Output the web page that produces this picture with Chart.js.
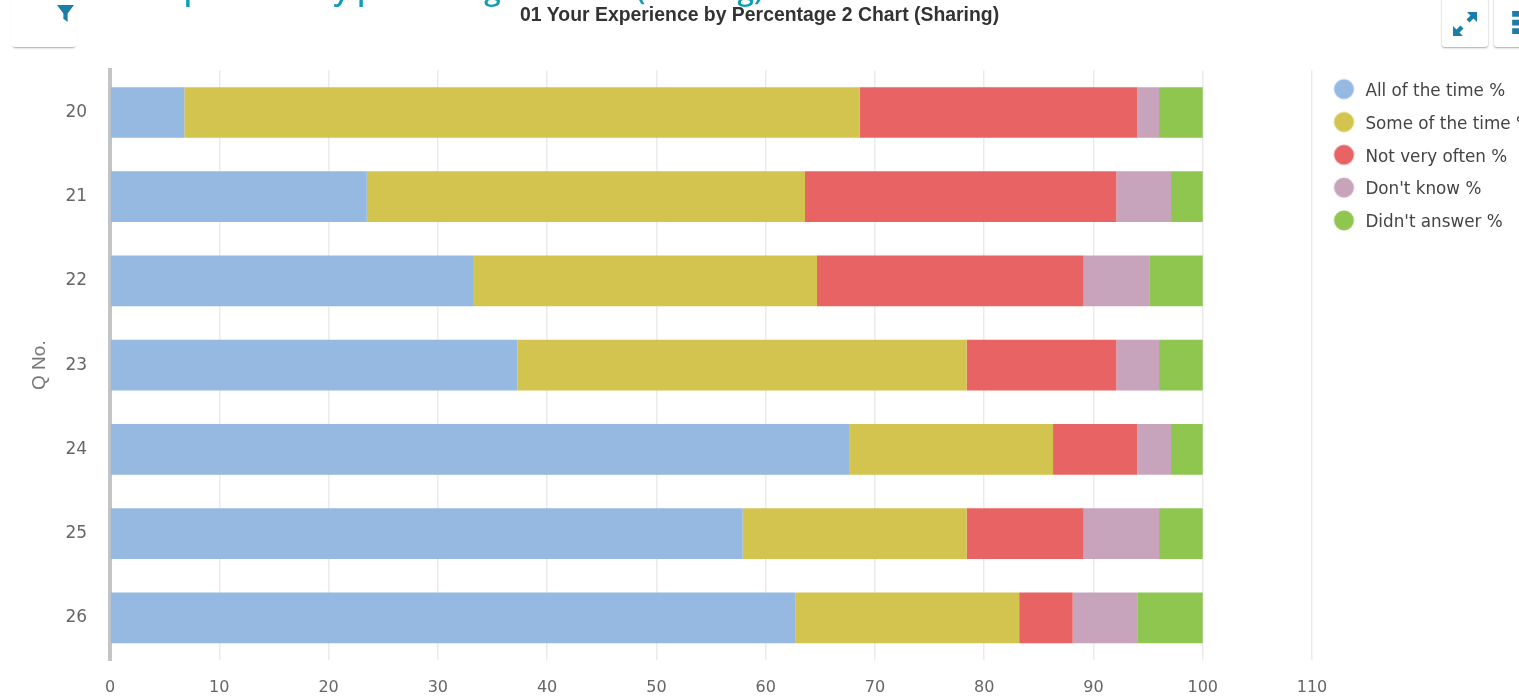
<!DOCTYPE html>
<html>
<head>
<meta charset="utf-8">
<title>01 Your Experience by Percentage 2 Chart (Sharing)</title>
<script src="https://cdn.jsdelivr.net/npm/chart.js@4"></script>
<style>
html, body { margin: 0; padding: 0; background: #fff; overflow: hidden; }
#wrap { position: relative; width: 1519px; height: 697px; overflow: hidden; }
#activity { position: absolute; left: 0; top: 0; }
#heading { position: absolute; left: 151px; top: -32px; font: 600 29.5px "Open Sans", sans-serif; color: #0f9db5; white-space: nowrap; }
.tab { position: absolute; background: #fff; box-shadow: 0 1px 2px rgba(0,0,0,.35); border-radius: 3px; }
#filterTab { box-shadow: 0 2px 2px -1px rgba(0,0,0,.35); }
</style>
</head>
<body>
<div id="wrap">
    <canvas id="activity" width="1519" height="697"></canvas>
    <div id="heading">Experience by percentage 2 Chart (Sharing)</div>
    <div class="tab" id="filterTab" style="left:12px;top:-10px;width:64px;height:57px">
        <svg style="position:absolute;left:45px;top:15px" width="17" height="17" viewBox="0 0 16 16"><path d="M0 0h16L10 8v8L6 13V8z" fill="#1a7fa8"/></svg>
    </div>
    <div class="tab" style="left:1442px;top:-10px;width:46px;height:57px">
        <svg style="position:absolute;left:10px;top:21px" width="26" height="26" viewBox="0 0 26 26"><path d="M15 1h10v10l-3.500-3.500-4 4-3-3 4-4zM1 25V15l3.500 3.500 4-4 3 3-4 4L11 25z" fill="#1a7fa8"/></svg>
    </div>
    <div class="tab" style="left:1494px;top:-10px;width:46px;height:57px">
        <svg style="position:absolute;left:18px;top:21px" width="8" height="23" viewBox="0 0 8 24"><path d="M0 0h8v6H0zM0 9h8v6H0zM0 18h8v6H0z" fill="#1a7fa8"/></svg>
    </div>
</div>
<script>
const questions = ['20', '21', '22', '23', '24', '25', '26'];
const allOfTheTime = [6.8, 23.5, 33.3, 37.3, 67.7, 57.9, 62.7];
const someOfTheTime = [61.8, 40.1, 31.4, 41.1, 18.6, 20.5, 20.5];
const notVeryOften = [25.4, 28.5, 24.4, 13.7, 7.7, 10.7, 4.9];
const dontKnow = [2.0, 5.0, 6.0, 3.9, 3.1, 6.9, 5.9];
const didntAnswer = [4.0, 2.9, 4.9, 4.0, 2.9, 4.0, 6.0];

// legend dot sits a little above and left of where Chart.js would centre it
function legendDot(color) {
    const c = document.createElement('canvas');
    c.width = 30;
    c.height = 30;
    const g = c.getContext('2d');
    g.fillStyle = color;
    g.beginPath();
    g.arc(16.5, 12.5, 10, 0, Math.PI * 2);
    g.fill();
    return c;
}

const moveLegend = {
    id: 'moveLegend',
    afterLayout(chart) {
        chart.legend.top -= 3;
    }
};

new Chart(document.getElementById('activity').getContext('2d'), {
    type: 'bar',
    data: {
        labels: questions,
        datasets: [
            { label: 'All of the time %', data: allOfTheTime, backgroundColor: '#95b9e1' },
            { label: 'Some of the time %', data: someOfTheTime, backgroundColor: '#d3c44f' },
            { label: 'Not very often %', data: notVeryOften, backgroundColor: '#e86363' },
            { label: "Don't know %", data: dontKnow, backgroundColor: '#c7a4bc' },
            { label: "Didn't answer %", data: didntAnswer, backgroundColor: '#8ec650' }
        ]
    },
    plugins: [moveLegend],
    options: {
        indexAxis: 'y',
        responsive: false,
        animation: false,
        barPercentage: 0.6,
        categoryPercentage: 1,
        scales: {
            x: {
                stacked: true,
                min: 0,
                max: 110,
                afterFit(scale) {
                    scale.height = 37;
                },
                ticks: { stepSize: 10, color: '#666', font: { family: '"DejaVu Sans"', size: 16 }, padding: 18 },
                grid: { color: '#ebebeb', lineWidth: 1.5, drawTicks: false },
                border: { display: false }
            },
            y: {
                stacked: true,
                ticks: { color: '#666', font: { family: '"DejaVu Sans"', size: 17 }, padding: 23 },
                grid: { display: false, drawTicks: false },
                border: { color: '#c4c4c4', width: 4 },
                title: {
                    display: true,
                    text: 'Q No.',
                    color: '#777',
                    font: { family: '"Liberation Sans"', size: 19 },
                    padding: { top: 28.6, bottom: -9 }
                }
            }
        },
        plugins: {
            title: {
                display: true,
                text: '01 Your Experience by Percentage 2 Chart (Sharing)',
                color: '#333',
                font: { family: '"Liberation Sans"', size: 19.4, weight: 'bold' },
                padding: { top: 4, bottom: 43 }
            },
            legend: {
                display: true,
                position: 'right',
                align: 'start',
                fullSize: false,
                maxWidth: 207,
                labels: {
                    usePointStyle: true,
                    pointStyleWidth: 29,
                    boxHeight: 14,
                    padding: 16,
                    color: '#444',
                    font: { family: '"DejaVu Sans"', size: 16.8 },
                    generateLabels(chart) {
                        return Chart.defaults.plugins.legend.labels.generateLabels(chart)
                            .map(item => ({ ...item, pointStyle: legendDot(item.fillStyle) }));
                    }
                }
            },
            tooltip: { enabled: false }
        }
    }
});
</script>
</body>
</html>
